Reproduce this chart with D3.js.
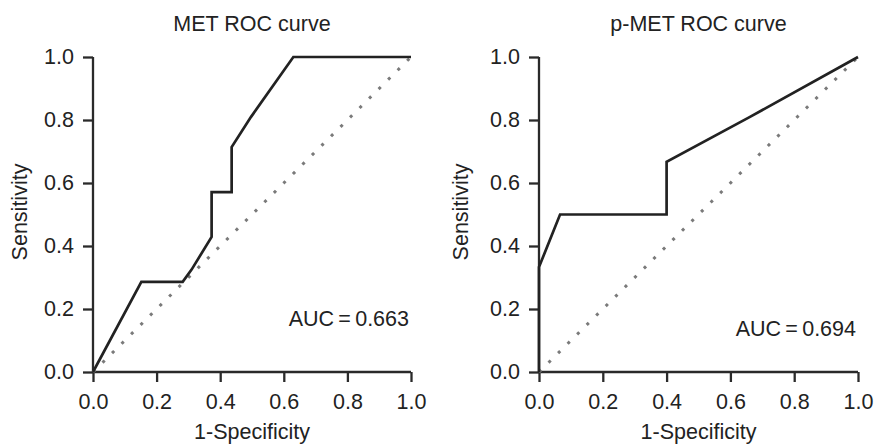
<!DOCTYPE html>
<html>
<head>
<meta charset="utf-8">
<script src="https://cdn.jsdelivr.net/npm/d3@7"></script>
<style>
  html, body { margin: 0; padding: 0; background: #ffffff; }
  svg text { font-family: "Liberation Sans", Arial, Helvetica, sans-serif; fill: #222; }
</style>
</head>
<body>
<svg id="chart" width="875" height="445"></svg>
<script>
// ---- data ----
const panelTitles = ["MET ROC curve", "p-MET ROC curve"];
const aucLabels = ["AUC\u2009=\u20090.663", "AUC\u2009=\u20090.694"];
const metFpr = [0, 0.152, 0.282, 0.31, 0.373, 0.373, 0.436, 0.436, 0.497, 0.63, 1.0];
const metTpr = [0, 0.286, 0.286, 0.325, 0.429, 0.571, 0.571, 0.714, 0.81, 1.0, 1.0];
const pmetFpr = [0, 0, 0.066, 0.4, 0.4, 0.66, 1.0];
const pmetTpr = [0, 0.333, 0.5, 0.5, 0.667, 0.809, 1.0];
const refFpr = [0, 1];
const refTpr = [0, 1];
const tickValues = [0, 0.2, 0.4, 0.6, 0.8, 1.0];
const xLabel = "1-Specificity";
const yLabel = "Sensitivity";

const svg = d3.select("#chart");
const fs = 21.5;

const panels = [
  { title: panelTitles[0], auc: aucLabels[0], fpr: metFpr, tpr: metTpr, x0: 93, x1: 411, ylab: 20, aucY: 326 },
  { title: panelTitles[1], auc: aucLabels[1], fpr: pmetFpr, tpr: pmetTpr, x0: 539, x1: 858, ylab: 461, aucY: 336 }
];

panels.forEach(p => {
  const x = d3.scaleLinear().domain([0, 1]).range([p.x0, p.x1]);
  const y = d3.scaleLinear().domain([0, 1]).range([372, 57]);
  const g = svg.append("g");

  const xAxis = d3.axisBottom(x).tickValues(tickValues).tickFormat(d3.format(".1f")).tickSize(10).tickPadding(12);
  const yAxis = d3.axisLeft(y).tickValues(tickValues).tickFormat(d3.format(".1f")).tickSize(10).tickPadding(9);

  const gx = g.append("g").attr("transform", `translate(0,${y(0)})`).call(xAxis);
  const gy = g.append("g").attr("transform", `translate(${x(0)},0)`).call(yAxis);
  [gx, gy].forEach(a => {
    a.select(".domain").remove();
    a.selectAll(".tick line").attr("stroke", "#2a2a2a").attr("stroke-width", 2.3);
    a.selectAll(".tick text").attr("font-size", fs).attr("fill", "#222")
      .style("font-family", '"Liberation Sans", Arial, sans-serif');
  });
  g.append("line").attr("x1", x(0)).attr("x2", x(1)).attr("y1", y(0)).attr("y2", y(0))
    .attr("stroke", "#2a2a2a").attr("stroke-width", 2.3);
  g.append("line").attr("x1", x(0)).attr("x2", x(0)).attr("y1", y(0)).attr("y2", y(1))
    .attr("stroke", "#2a2a2a").attr("stroke-width", 2.3);

  const line = d3.line().x(d => x(d[0])).y(d => y(d[1]));
  g.append("path")
    .datum(refFpr.map((v, i) => [v, refTpr[i]]))
    .attr("d", line)
    .attr("fill", "none")
    .attr("stroke", "#7a7a7a")
    .attr("stroke-width", 3)
    .attr("stroke-dasharray", "3,10.4");

  g.append("path")
    .datum(p.fpr.map((v, i) => [v, p.tpr[i]]))
    .attr("d", line)
    .attr("fill", "none")
    .attr("stroke", "#222")
    .attr("stroke-width", 2.7)
    .attr("stroke-linejoin", "miter");

  g.append("text").attr("x", (p.x0 + p.x1) / 2).attr("y", 31)
    .attr("text-anchor", "middle").attr("font-size", fs).text(p.title);

  g.append("text").attr("x", p.x1 - 2).attr("y", p.aucY)
    .attr("text-anchor", "end").attr("font-size", fs).text(p.auc);

  g.append("text").attr("x", (p.x0 + p.x1) / 2).attr("y", 439)
    .attr("text-anchor", "middle").attr("font-size", fs).text(xLabel);
  g.append("text").attr("transform", `translate(${p.ylab + 7},${212}) rotate(-90)`)
    .attr("text-anchor", "middle").attr("font-size", fs).text(yLabel);
});
</script>
</body>
</html>
